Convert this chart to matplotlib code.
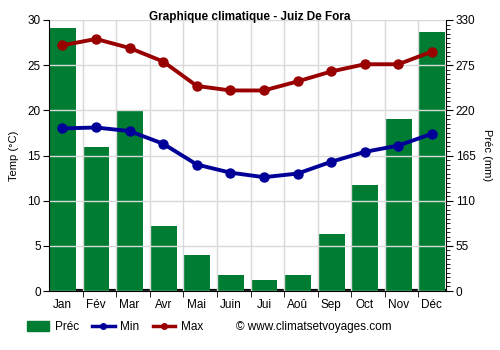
import matplotlib.pyplot as plt
from matplotlib.lines import Line2D
from matplotlib.patches import Patch
from matplotlib.ticker import MultipleLocator, FixedLocator

plt.rcParams['font.family'] = ['Liberation Sans', 'DejaVu Sans']

months = ['Jan', 'Fév', 'Mar', 'Avr', 'Mai', 'Juin', 'Jui', 'Aoû', 'Sep', 'Oct', 'Nov', 'Déc']
prec = [320, 175, 220, 79, 44, 19, 13, 19, 69, 129, 210, 315]
t_min = [18.0, 18.1, 17.7, 16.3, 14.0, 13.1, 12.6, 13.0, 14.3, 15.4, 16.1, 17.4]
t_max = [27.2, 27.9, 26.9, 25.4, 22.7, 22.2, 22.2, 23.2, 24.3, 25.1, 25.1, 26.5]

green = '#007d32'
blue = '#000099'
red = '#990000'

fig = plt.figure(figsize=(5, 3.5), dpi=100)
ax = fig.add_axes([49 / 500, 1 - 291 / 350, 397 / 500, 271 / 350])
ax2 = ax.twinx()

x = list(range(len(months)))

# precipitation bars on the right axis
ax2.axhline(0, color='black', lw=3, zorder=1)
ax2.bar(x, prec, width=0.8, color=green, zorder=2)
ax2.set_ylim(0, 330)
ax2.yaxis.set_major_locator(MultipleLocator(55))
ax2.yaxis.set_minor_locator(MultipleLocator(5.5))
ax2.set_ylabel('Préc (mm)', rotation=-90, labelpad=12, fontsize=8)

# temperatures on the left axis, drawn above the bars
ax.set_zorder(ax2.get_zorder() + 1)
ax.patch.set_visible(False)
ax.plot(x, t_min, color=blue, lw=2.8, marker='o', ms=6.5, zorder=5)
ax.plot(x, t_max, color=red, lw=2.8, marker='o', ms=6.5, zorder=5)
ax.set_ylim(0, 30)
ax.set_xlim(-0.4, 11.42)
ax.yaxis.set_major_locator(MultipleLocator(5))
ax.set_ylabel('Temp (°C)', fontsize=8, labelpad=6)

# month labels at bar centres, tick marks / grid at month boundaries
ax.set_xticks(x)
ax.set_xticklabels(months)
ax.xaxis.set_minor_locator(FixedLocator([i - 0.4 for i in range(1, 12)]))
ax.tick_params(axis='x', which='major', length=0, pad=6)
ax.tick_params(axis='x', which='minor', length=4, color='black')
ax.grid(axis='x', which='minor', color='#d9d9d9', lw=1)
ax.grid(axis='y', which='major', color='#d9d9d9', lw=1)
ax.set_axisbelow(True)

for a in (ax, ax2):
    a.tick_params(axis='both', labelsize=8.5, direction='out')
    for s in a.spines.values():
        s.set_visible(False)
ax.spines['left'].set_visible(True)
ax.spines['bottom'].set_visible(True)
ax2.spines['right'].set_visible(True)
ax.tick_params(axis='y', length=4, pad=2)
ax2.tick_params(axis='y', which='major', length=5, pad=2)
ax2.tick_params(axis='y', which='minor', length=3)

fig.text(0.5, 1 - 17 / 350, 'Graphique climatique - Juiz De Fora', ha='center', va='center',
         fontsize=8.5, fontweight='bold')

handles = [Patch(color=green),
           Line2D([], [], color=blue, lw=2.5, marker='o', ms=4),
           Line2D([], [], color=red, lw=2.5, marker='o', ms=4)]
fig.legend(handles, ['Préc', 'Min', 'Max'], ncol=3, loc='center left',
           bbox_to_anchor=(16 / 500, 1 - 327 / 350), frameon=False, fontsize=8.5,
           handlelength=1.9, columnspacing=1.1, handletextpad=0.5, handleheight=0.9)
fig.text(236 / 500, 1 - 327 / 350, '© www.climatsetvoyages.com', ha='left', va='center', fontsize=8.5)

fig.savefig('out.png', dpi=100)
